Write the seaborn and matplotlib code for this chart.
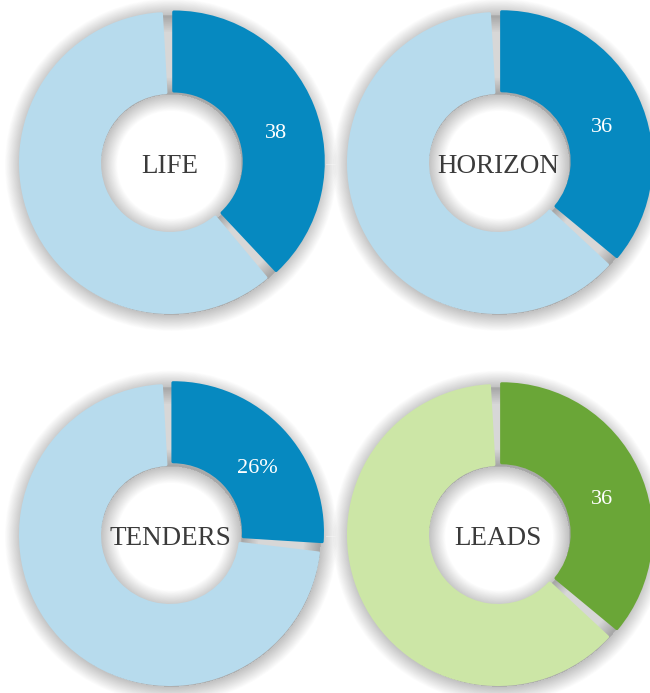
import matplotlib
matplotlib.use("Agg")
import numpy as np
import matplotlib.pyplot as plt
from matplotlib import patheffects as pe
import seaborn as sns

# data
names = ["LIFE", "HORIZON", "TENDERS", "LEADS"]
values = [38, 36, 26, 36]
value_labels = ["38", "36", "26%", "36"]
dark_colors = ["#0689c0", "#0689c0", "#0689c0", "#6aa637"]
light_colors = ["#b7dbed", "#b7dbed", "#b7dbed", "#cce6a6"]

sns.set_theme(style="white")
plt.rcParams["font.family"] = ["Liberation Serif", "DejaVu Serif"]

W, H = 650, 693
centers = [(170, 163), (498, 163), (170, 535), (498, 535)]  # px, from top-left
unit = 149.5    # px per unit of pie radius
lim = 1.15
GAP = 3.3       # deg, gap cut from the light slice
EXPLODE = 0.027
ring_width = 1 - 70.5 / unit

fig = plt.figure(figsize=(W / 100, H / 100), dpi=100)

# soft drop shadow built from many faint strokes
glow = [pe.Stroke(linewidth=lw, foreground="black", alpha=0.012, offset=(0.8, -1.3))
        for lw in np.linspace(2, 24, 20)]

for name, v, lab, dk, lt, (cx, cy) in zip(names, values, value_labels,
                                          dark_colors, light_colors, centers):
    size = 2 * lim * unit
    ax = fig.add_axes([(cx - size / 2) / W, (H - cy - size / 2) / H, size / W, size / H])

    # shadow under the whole ring
    shadow, _ = ax.pie([100], radius=1, colors=["#808080"],
                       wedgeprops=dict(width=ring_width, linewidth=0))
    shadow[0].set_path_effects(glow)
    shadow[0].set_zorder(1)

    wedges, _ = ax.pie([v, 100 - v], startangle=90, counterclock=False,
                       colors=[dk, lt], radius=1, explode=[EXPLODE, 0],
                       wedgeprops=dict(width=ring_width, linewidth=2.2,
                                       joinstyle="round"))
    dark, light = wedges
    light.set_theta1(light.theta1 + GAP)
    light.set_theta2(light.theta2 - GAP)
    for w in wedges:
        w.set_edgecolor(w.get_facecolor())
        w.set_zorder(2)

    ang = np.deg2rad(90 - 1.8 * v - 5)
    r = 0.74
    ax.text(r * np.cos(ang), r * np.sin(ang) - 0.015, lab, color="white", fontsize=16,
            ha="center", va="center", zorder=3)
    ax.text(0, -0.022, name, color="#3b3b3b", fontsize=19.5, ha="center", va="center",
            zorder=3)

    ax.set_xlim(-lim, lim)
    ax.set_ylim(-lim, lim)
    ax.set_aspect("equal")
    ax.axis("off")

fig.savefig("out.png", dpi=100)
